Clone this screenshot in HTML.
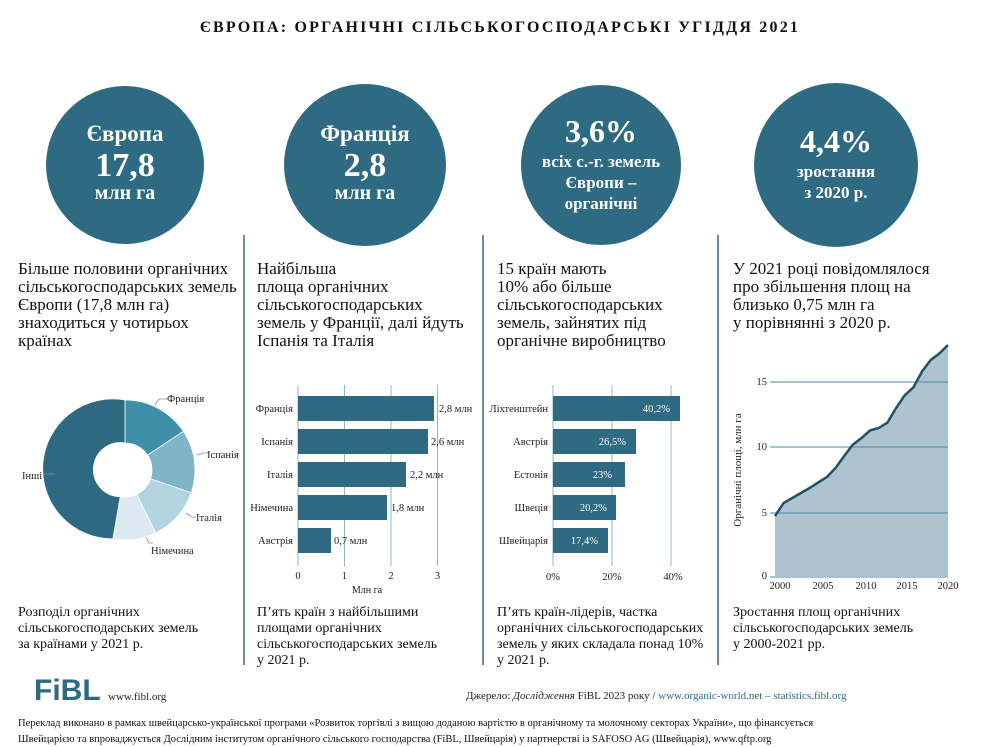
<!DOCTYPE html>
<html><head><meta charset="utf-8"><style>
html,body{margin:0;padding:0;background:#fff}
svg{display:block}
text{font-family:"Liberation Serif",serif}
</style></head><body>
<svg width="1000" height="747" viewBox="0 0 1000 747" xmlns="http://www.w3.org/2000/svg">
<text x="500" y="32" text-anchor="middle" font-size="16" font-weight="bold" letter-spacing="2.2" fill="#111">ЄВРОПА:  ОРГАНІЧНІ  СІЛЬСЬКОГОСПОДАРСЬКІ  УГІДДЯ  2021</text>

<g fill="#2e6a82">
<circle cx="125" cy="165" r="79"/>
<circle cx="365" cy="165" r="81"/>
<circle cx="601" cy="165" r="80"/>
<circle cx="836" cy="165" r="82"/>
</g>
<g fill="#fff" font-weight="bold" text-anchor="middle">
<text x="125" y="141" font-size="23">Європа</text>
<text x="125" y="176" font-size="34">17,8</text>
<text x="125" y="199" font-size="20">млн га</text>
<text x="365" y="141" font-size="23">Франція</text>
<text x="365" y="176" font-size="34">2,8</text>
<text x="365" y="199" font-size="20">млн га</text>
<text x="601" y="142" font-size="32">3,6%</text>
<text x="601" y="167" font-size="17">всіх с.-г. земель</text>
<text x="601" y="188" font-size="17">Європи –</text>
<text x="601" y="209" font-size="17">органічні</text>
<text x="836" y="152" font-size="32">4,4%</text>
<text x="836" y="177" font-size="17">зростання</text>
<text x="836" y="198" font-size="17">з 2020 р.</text>
</g>

<g stroke="#2e6a82" stroke-width="1.5">
<line x1="244" y1="235" x2="244" y2="665"/>
<line x1="483" y1="235" x2="483" y2="665"/>
<line x1="718" y1="235" x2="718" y2="665"/>
</g>

<g font-size="17" fill="#111">
<text x="18" y="274">Більше половини органічних</text>
<text x="18" y="292">сільськогосподарських земель</text>
<text x="18" y="310">Європи (17,8 млн га)</text>
<text x="18" y="328">знаходиться у чотирьох</text>
<text x="18" y="346">країнах</text>
<text x="257" y="274">Найбільша</text>
<text x="257" y="292">площа органічних</text>
<text x="257" y="310">сільськогосподарських</text>
<text x="257" y="328">земель у Франції, далі йдуть</text>
<text x="257" y="346">Іспанія та Італія</text>
<text x="497" y="274">15 країн мають</text>
<text x="497" y="292">10% або більше</text>
<text x="497" y="310">сільськогосподарських</text>
<text x="497" y="328">земель, зайнятих під</text>
<text x="497" y="346">органічне виробництво</text>
<text x="733" y="274">У 2021 році повідомлялося</text>
<text x="733" y="292">про збільшення площ на</text>
<text x="733" y="310">близько 0,75 млн га</text>
<text x="733" y="328">у порівнянні з 2020 р.</text>
</g>

<!-- donut -->
<g transform="translate(5,2)">
<g stroke="#fff" stroke-width="0.8">
<path d="M120,398 A70,70 0 0 1 178.4,429.4 L142.5,453.1 A27,27 0 0 0 120,441 Z" fill="#3f8fa8"/>
<path d="M178.4,429.4 A70,70 0 0 1 186.2,490.8 L145.5,476.8 A27,27 0 0 0 142.5,453.1 Z" fill="#80b4c7"/>
<path d="M186.2,490.8 A70,70 0 0 1 150.7,530.9 L131.8,492.3 A27,27 0 0 0 145.5,476.8 Z" fill="#b2d4df"/>
<path d="M150.7,530.9 A70,70 0 0 1 107.8,536.9 L115.3,494.6 A27,27 0 0 0 131.8,492.3 Z" fill="#dde9f0"/>
<path d="M107.8,536.9 A70,70 0 1 1 120,398 L120,441 A27,27 0 1 0 115.3,494.6 Z" fill="#2d6a82"/>
</g>
</g>
<g stroke="#888" stroke-width="0.8" fill="none">
<path d="M155,405 l4,-6 h8"/>
<path d="M197,455 l6,-2 h5"/>
<path d="M186,513 l6,4 h4"/>
<path d="M146,537 l3,6 h4"/>
<path d="M43,474 h12"/>
</g>
<g font-size="10.5" fill="#222">
<text x="167" y="402">Франція</text>
<text x="207" y="458">Іспанія</text>
<text x="196" y="521">Італія</text>
<text x="151" y="554">Німечина</text>
<text x="22" y="479">Інші</text>
</g>

<!-- bar chart 1 -->
<g stroke="#8ab8c8" stroke-width="1">
<line x1="298" y1="385" x2="298" y2="566"/>
<line x1="344.5" y1="385" x2="344.5" y2="566"/>
<line x1="391" y1="385" x2="391" y2="566"/>
<line x1="437.5" y1="385" x2="437.5" y2="566"/>
</g>
<g fill="#2e6a82">
<rect x="298" y="396" width="136" height="25"/>
<rect x="298" y="429" width="130" height="25"/>
<rect x="298" y="462" width="108" height="25"/>
<rect x="298" y="495" width="89" height="25"/>
<rect x="298" y="528" width="33" height="25"/>
</g>
<g font-size="10.5" fill="#222" text-anchor="end">
<text x="293" y="412">Франція</text>
<text x="293" y="445">Іспанія</text>
<text x="293" y="478">Італія</text>
<text x="293" y="511">Німечина</text>
<text x="293" y="544">Австрія</text>
</g>
<g font-size="10.5" fill="#222">
<text x="439" y="412">2,8 млн</text>
<text x="431" y="445">2,6 млн</text>
<text x="410" y="478">2,2 млн</text>
<text x="391" y="511">1,8 млн</text>
<text x="334" y="544">0,7 млн</text>
</g>
<g font-size="10.5" fill="#222" text-anchor="middle">
<text x="298" y="579">0</text><text x="344.5" y="579">1</text><text x="391" y="579">2</text><text x="437.5" y="579">3</text>
<text x="367" y="593" font-size="10">Млн га</text>
</g>

<!-- bar chart 2 -->
<g stroke="#8ab8c8" stroke-width="1">
<line x1="553" y1="385" x2="553" y2="566"/>
<line x1="612" y1="385" x2="612" y2="566"/>
<line x1="671" y1="385" x2="671" y2="566"/>
</g>
<g fill="#2e6a82">
<rect x="553" y="396" width="127" height="25"/>
<rect x="553" y="429" width="83" height="25"/>
<rect x="553" y="462" width="72" height="25"/>
<rect x="553" y="495" width="63" height="25"/>
<rect x="553" y="528" width="55" height="25"/>
</g>
<g font-size="10.5" fill="#222" text-anchor="end">
<text x="548" y="412">Ліхтенштейн</text>
<text x="548" y="445">Австрія</text>
<text x="548" y="478">Естонія</text>
<text x="548" y="511">Швеція</text>
<text x="548" y="544">Швейцарія</text>
</g>
<g font-size="10.5" fill="#fff" text-anchor="end">
<text x="670" y="412">40,2%</text>
<text x="626" y="445">26,5%</text>
<text x="612" y="478">23%</text>
<text x="607" y="511">20,2%</text>
<text x="598" y="544">17,4%</text>
</g>
<g font-size="10.5" fill="#222" text-anchor="middle">
<text x="553" y="580">0%</text><text x="612" y="580">20%</text><text x="673" y="580">40%</text>
</g>

<!-- area chart -->
<path d="M775,516 L783.6,503 L792.3,498 L800.9,493 L809.6,488 L818.2,482.4 L826.9,477 L835.5,468 L844.2,456 L852.8,444.7 L861.5,438 L870.1,430.4 L878.8,428 L887.4,422.6 L896.1,408 L904.7,395.3 L913.4,387.4 L922,371.5 L930.7,360 L939.3,353.5 L948,345 L948,576 L775,576 Z" fill="#adc4cf"/>
<g stroke="#4c8aa2" stroke-width="1">
<line x1="770" y1="382" x2="948" y2="382"/>
<line x1="770" y1="447" x2="948" y2="447"/>
<line x1="770" y1="513" x2="948" y2="513"/>
<line x1="770" y1="577" x2="948" y2="577"/>
</g>
<path d="M775,516 L783.6,503 L792.3,498 L800.9,493 L809.6,488 L818.2,482.4 L826.9,477 L835.5,468 L844.2,456 L852.8,444.7 L861.5,438 L870.1,430.4 L878.8,428 L887.4,422.6 L896.1,408 L904.7,395.3 L913.4,387.4 L922,371.5 L930.7,360 L939.3,353.5 L948,345" fill="none" stroke="#1d5268" stroke-width="2.5"/>
<g font-size="10.5" fill="#222" text-anchor="end">
<text x="767" y="385">15</text><text x="767" y="450">10</text><text x="767" y="516">5</text><text x="767" y="579">0</text>
</g>
<g font-size="10.5" fill="#222" text-anchor="middle">
<text x="780" y="589">2000</text><text x="823" y="589">2005</text><text x="866" y="589">2010</text><text x="907" y="589">2015</text><text x="948" y="589">2020</text>
</g>
<text transform="translate(741,470) rotate(-90)" font-size="11" fill="#222" text-anchor="middle">Органічні площі, млн га</text>

<!-- captions -->
<g font-size="14" fill="#111">
<text x="18" y="616">Розподіл органічних</text>
<text x="18" y="632">сільськогосподарських земель</text>
<text x="18" y="648">за країнами у 2021 р.</text>
<text x="257" y="616">П’ять країн з найбільшими</text>
<text x="257" y="632">площами органічних</text>
<text x="257" y="648">сільськогосподарських земель</text>
<text x="257" y="664">у 2021 р.</text>
<text x="497" y="616">П’ять країн-лідерів, частка</text>
<text x="497" y="632">органічних сільськогосподарських</text>
<text x="497" y="648">земель у яких складала понад 10%</text>
<text x="497" y="664">у 2021 р.</text>
<text x="733" y="616">Зростання площ органічних</text>
<text x="733" y="632">сільськогосподарських земель</text>
<text x="733" y="648">у 2000-2021 рр.</text>
</g>

<!-- footer -->
<text x="34" y="700" font-size="30" font-weight="bold" fill="#2e6a82" style="font-family:'Liberation Sans',sans-serif">FiBL</text>
<text x="108" y="700" font-size="11" fill="#222">www.fibl.org</text>
<text x="466" y="699" font-size="11" fill="#222">Джерело: <tspan font-style="italic">Дослідження</tspan> FiBL 2023 року / <tspan fill="#2e6a82">www.organic-world.net – statistics.fibl.org</tspan></text>
<text x="18" y="726" font-size="10.5" fill="#111">Переклад виконано в рамках швейцарсько-української програми «Розвиток торгівлі з вищою доданою вартістю в органічному та молочному секторах України», що фінансується</text>
<text x="18" y="742" font-size="10.5" fill="#111">Швейцарією та впроваджується Дослідним інститутом органічного сільського господарства (FiBL, Швейцарія) у партнерстві із SAFOSO AG (Швейцарія), www.qftp.org</text>
</svg>
</body></html>
